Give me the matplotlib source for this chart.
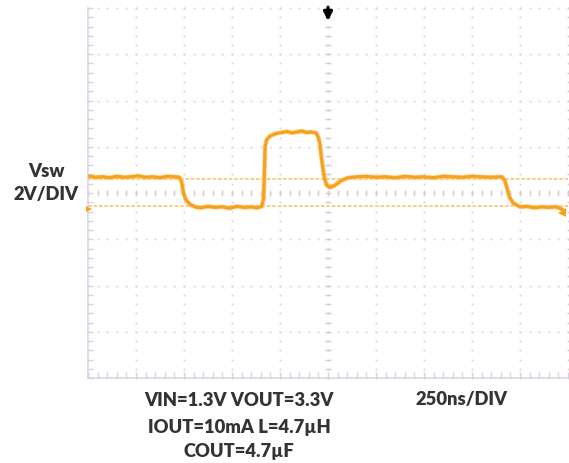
import numpy as np
import matplotlib.pyplot as plt

# scope trace, in divisions (x: 0..10, y: 0..8 from bottom)
t_div = [0.04, 0.15, 0.30, 0.45, 0.60, 0.75, 0.90, 1.05, 1.20, 1.35, 1.50, 1.65, 1.80, 1.90,
         1.95, 1.99, 2.04, 2.13, 2.23,
         2.35, 2.50, 2.65, 2.80, 2.95, 3.10, 3.25, 3.40, 3.52, 3.62,
         3.66, 3.69, 3.72, 3.79, 3.93, 4.05, 4.14, 4.25, 4.35, 4.45, 4.55, 4.65, 4.75,
         4.80, 4.83, 4.87, 4.92, 4.97, 5.04, 5.15, 5.28, 5.42, 5.60,
         5.80, 6.00, 6.20, 6.40, 6.60, 6.80, 7.00, 7.20, 7.40, 7.60, 7.80, 8.00, 8.20, 8.40, 8.62,
         8.68, 8.72, 8.78, 8.86, 9.00,
         9.15, 9.30, 9.45, 9.60, 9.75, 9.85, 9.92]
v_div = [4.36, 4.34, 4.35, 4.33, 4.36, 4.34, 4.35, 4.37, 4.34, 4.35, 4.33, 4.36, 4.35, 4.34,
         4.25, 3.99, 3.85, 3.75, 3.70,
         3.68, 3.71, 3.69, 3.70, 3.67, 3.71, 3.69, 3.70, 3.68, 3.71,
         3.90, 5.00, 5.15, 5.23, 5.29, 5.31, 5.33, 5.30, 5.32, 5.34, 5.31, 5.32, 5.30,
         5.20, 5.07, 4.71, 4.35, 4.17, 4.12, 4.17, 4.27, 4.33, 4.35,
         4.36, 4.34, 4.35, 4.33, 4.36, 4.34, 4.35, 4.33, 4.36, 4.35, 4.34, 4.36, 4.35, 4.34, 4.35,
         4.28, 4.14, 3.91, 3.78, 3.70,
         3.71, 3.68, 3.70, 3.69, 3.70, 3.66, 3.62]

cursor_levels = [4.30, 3.72]
trigger_time = 5.0
trigger_level = 3.57
ground_level = 3.65

n_xdiv, n_ydiv = 10, 8
orange = "#f7a21b"
grid_col = "#e0d0da"
text_col = "#333333"

W, H = 569, 463
fig = plt.figure(figsize=(W / 100, H / 100), dpi=100)
ax = fig.add_axes([88 / W, (H - 378) / H, 480 / W, 370 / H])
ax.set_xlim(0, n_xdiv)
ax.set_ylim(0, n_ydiv)
ax.axis("off")

# dotted graticule
ys = np.arange(0, n_ydiv + 0.01, 0.2)
xs = np.arange(0, n_xdiv + 0.01, 0.2)
for i in range(1, n_xdiv + 1):
    ax.plot([i] * len(ys), ys, ls="none", marker="s", ms=1.3, mew=0,
            color=grid_col, clip_on=False)
for j in range(1, n_ydiv + 1):
    ax.plot(xs, [j] * len(xs), ls="none", marker="s", ms=1.3, mew=0,
            color=grid_col, clip_on=False)

# centre cross ticks
ax.plot([n_xdiv / 2] * len(ys), ys, ls="none", marker="_", ms=4.5, mew=1,
        color="#d6cad5", clip_on=False)
ax.plot(xs, [n_ydiv / 2] * len(xs), ls="none", marker="|", ms=4.5, mew=1,
        color="#d6cad5", clip_on=False)

# left and bottom frame with ticks
ax.plot([0, 0], [0, n_ydiv], color="#ddd7e4", lw=1.2, clip_on=False)
ax.plot([0, n_xdiv], [0, 0], color="#ddd7e4", lw=1.2, clip_on=False)
ax.plot([0.05] * len(ys), ys, ls="none", marker="_", ms=4, mew=1,
        color="#d8d0de", clip_on=False)
ax.plot(xs, [0.06] * len(xs), ls="none", marker="|", ms=4, mew=1,
        color="#d8d0de", clip_on=False)

# cursors
for lv in cursor_levels:
    ax.axhline(lv, color="#fbc77a", lw=1.3, ls=(0, (2, 1)))

# trace
ax.plot(t_div, v_div, color="#fbc77a", lw=3.4, solid_joinstyle="round", alpha=0.7)
ax.plot(t_div, v_div, color=orange, lw=2.3, solid_joinstyle="round")
ax.plot([9.87], [trigger_level], marker="<", ms=6, color=orange, mew=0)
ax.plot([0.02], [ground_level], marker=">", ms=4, color=orange, mew=0, clip_on=False)

# trigger position arrow
ax.annotate("", xy=(trigger_time, 7.72), xytext=(trigger_time, 8.02),
            arrowprops=dict(arrowstyle="-|>", color="black", lw=2.2,
                            mutation_scale=13, shrinkA=0, shrinkB=0),
            annotation_clip=False)

font = dict(family="Lato", weight="heavy", color=text_col, size=13.2,
            ha="center", va="center")


def put(x, y, s):
    fig.text(x / W, 1 - y / H, s, **font)


put(46, 171, "Vsw")
put(46, 195, "2V/DIV")
put(239, 400, "VIN=1.3V VOUT=3.3V")
put(239, 427, "IOUT=10mA L=4.7\u00b5H")
put(239, 451, "COUT=4.7\u00b5F")
put(462, 400, "250ns/DIV")

fig.savefig("out.png", dpi=100)
